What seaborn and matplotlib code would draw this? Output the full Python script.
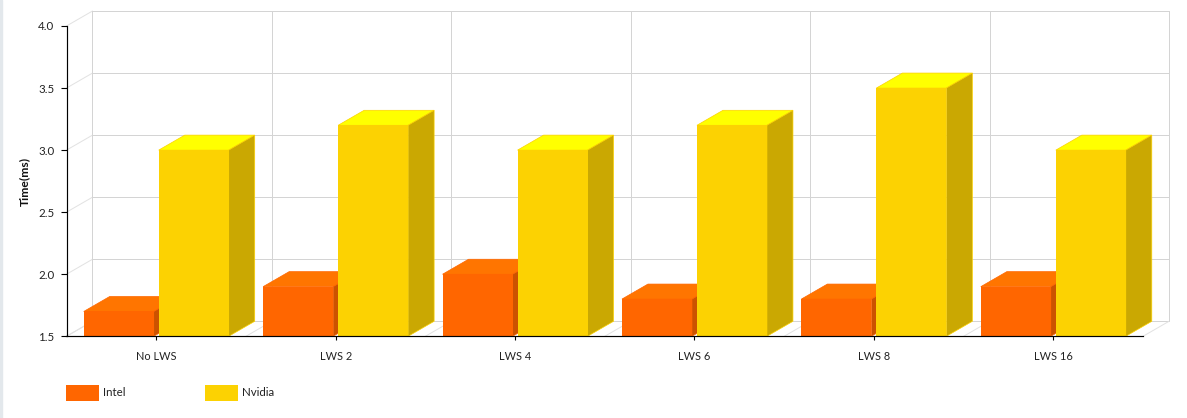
#!/usr/bin/env python
import pandas as pd
import seaborn as sns
import matplotlib.pyplot as plt
from matplotlib.patches import Polygon, Rectangle

categories = ["No LWS", "LWS 2", "LWS 4", "LWS 6", "LWS 8", "LWS 16"]
intel = [1.7, 1.9, 2.0, 1.8, 1.8, 1.9]
nvidia = [3.0, 3.2, 3.0, 3.2, 3.5, 3.0]
y_ticks = [1.5, 2.0, 2.5, 3.0, 3.5, 4.0]

W, H = 1187, 418
AX_L, AX_R, AX_T, AX_B = 66.5, 1143.0, 26.0, 336.3
DEPTH_X, DEPTH_Y = 26.0, 15.0  # 3d offset in pixels

sns.set_theme(style="white")
plt.rcParams["font.family"] = ["Lato", "Liberation Sans", "DejaVu Sans"]

df = pd.DataFrame({
    "category": categories * 2,
    "value": intel + nvidia,
    "series": ["Intel"] * len(categories) + ["Nvidia"] * len(categories),
})

fig = plt.figure(figsize=(W / 100, H / 100), dpi=100)
fig.patches.append(Rectangle((0, 0), 2 / W, 1, transform=fig.transFigure, color="#e3e8ec"))
ax = fig.add_axes([AX_L / W, 1 - AX_B / H, (AX_R - AX_L) / W, (AX_B - AX_T) / H])

sns.barplot(data=df, x="category", y="value", hue="series", ax=ax,
            palette={"Intel": "#ff6600", "Nvidia": "#fcd202"},
            width=0.836, gap=0.0667, saturation=1, legend=True, linewidth=0)

ax.set_xlim(-0.5, len(categories) - 0.5)
ax.set_ylim(y_ticks[0], y_ticks[-1])
ax.set_yticks(y_ticks)
ax.set_yticklabels([f"{t:.1f}" for t in y_ticks])

# depth in data units
dx = DEPTH_X * (len(categories)) / (AX_R - AX_L)
dy = DEPTH_Y * (y_ticks[-1] - y_ticks[0]) / (AX_B - AX_T)
floor = y_ticks[0]
x0, x1 = ax.get_xlim()

# back wall and floor grid
GRID = "#d4d4d4"
DIAG = "#e2e2e2"
for t in y_ticks:
    ax.plot([x0 + dx, x1 + dx], [t + dy, t + dy], color=GRID, lw=0.72, clip_on=False, zorder=0.5)
    ax.plot([x0, x0 + dx], [t, t + dy], color=DIAG, lw=0.72, clip_on=False, zorder=0.5)
for i in range(len(categories) + 1):
    b = x0 + i
    ax.plot([b + dx, b + dx], [floor + dy, y_ticks[-1] + dy], color=GRID, lw=0.72, clip_on=False, zorder=0.5)
    ax.plot([b, b + dx], [floor, floor + dy], color=DIAG, lw=0.72, clip_on=False, zorder=0.5)

# top and side faces for every bar, painted in category order
faces = {0: ("#ff7500", "#cc5200", "#ff6600"), 1: ("#ffff00", "#caa802", "#fcd202")}
for s, container in enumerate(ax.containers[:2]):
    top_c, side_c, edge_c = faces[s]
    for c, bar in enumerate(container):
        l, r, v = bar.get_x(), bar.get_x() + bar.get_width(), bar.get_height()
        z = 1 + c * 0.1 + s * 0.05
        ax.add_patch(Polygon([(l, v), (l + dx, v + dy), (r + dx, v + dy), (r, v)],
                             facecolor=top_c, edgecolor=edge_c, lw=0.5, clip_on=False, zorder=z))
        ax.add_patch(Polygon([(r, floor), (r + dx, floor + dy), (r + dx, v + dy), (r, v)],
                             facecolor=side_c, edgecolor=edge_c, lw=0.5, clip_on=False, zorder=z))
        bar.set_zorder(z + 0.01)

sns.despine(ax=ax)
for side in ("left", "bottom"):
    ax.spines[side].set_color("black")
    ax.spines[side].set_linewidth(0.85)
    ax.spines[side].set_zorder(3)
ax.tick_params(axis="y", left=True, length=4.3, width=0.8, color="black", pad=4.5, labelsize=8.3, labelcolor="#222222")
ax.tick_params(axis="x", bottom=True, length=3.2, width=0.8, color="black", pad=7.6, labelsize=7.9, labelcolor="#222222")
ax.set_xlabel("")
ax.set_ylabel("")
fig.text(25 / W, 1 - 181 / H, "Time(ms)", rotation=90, ha="center", va="center",
         fontsize=8.7, fontweight="bold", color="#111111")

handles, labels = ax.get_legend_handles_labels()
ax.legend(handles, labels, ncols=2, frameon=False, fontsize=8.3, labelcolor="#222222",
          loc="upper left", bbox_to_anchor=(66 / W, 1 - 384.6 / H), bbox_transform=fig.transFigure,
          borderpad=0, borderaxespad=0, handlelength=2.86, handleheight=1.78,
          handletextpad=0.35, columnspacing=6.86)

fig.savefig("out.png", dpi=100, facecolor="white")
